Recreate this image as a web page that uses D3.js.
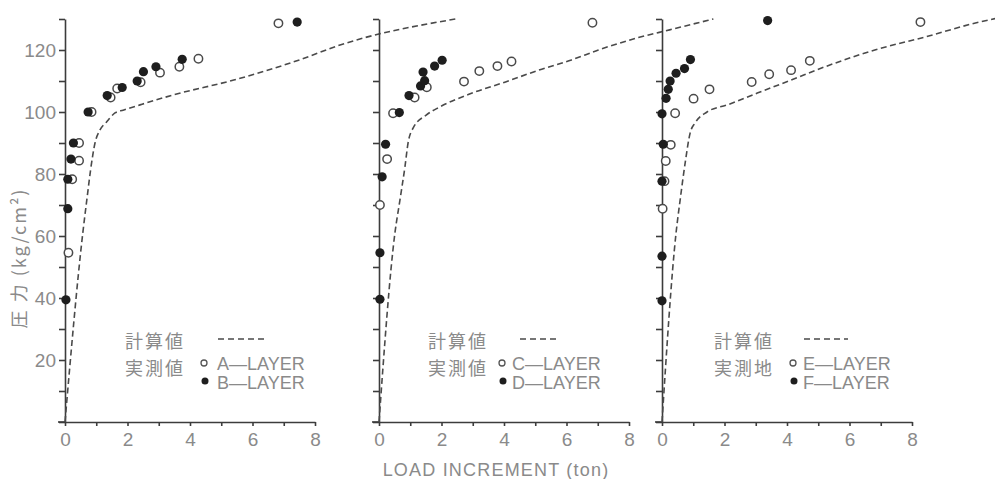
<!DOCTYPE html>
<html>
<head>
<meta charset="utf-8">
<script src="https://cdn.jsdelivr.net/npm/d3@7"></script>
<style>
  body { margin: 0; background: #fff; }
  svg { display: block; }
  .lbl { fill: #8a8a8a; font-family: "Liberation Sans", "DejaVu Sans", sans-serif; }
  .cjk { fill: #8a8a8a; font-family: "Noto Sans CJK JP", sans-serif; }
</style>
</head>
<body>
<svg id="chart" width="995" height="479"></svg>
<script>
// calculated curves [load increment (ton), pressure (kg/cm2)]
const calcAB = [[0,0],[0.57,61],[0.71,72.6],[0.82,81.4],[0.96,90],[1.12,94.2],[1.33,96.8],[1.6,99.7],[1.86,100.6],[2.4,102.3],[3.46,105.5],[5.4,110.3],[7.5,116.8],[8.8,121.6],[12.5,130]];
const calcCD = [[0,0],[0.51,61],[0.67,71.6],[0.83,82.3],[0.93,90],[1.09,94.8],[1.51,99],[1.94,101.6],[2.98,106.1],[4.05,109.7],[5.11,113.5],[6.16,116.8],[7.02,120],[8.3,124],[9.3,126.5],[10.7,130]];
const calcEF = [[0,0],[0.45,61],[0.58,71.6],[0.74,83.5],[0.9,93.2],[1.06,96.5],[1.44,100],[2.09,102.3],[3.05,106.1],[4.13,110.3],[5.19,114.5],[6.81,120],[8.42,124.2],[10.03,128.7],[10.74,130.3]];

// measured values
const layerA = [[0.11,54.6],[0.23,78.3],[0.45,84.3],[0.45,90],[0.85,100],[1.46,104.7],[1.67,107.6],[2.42,109.6],[3.04,112.7],[3.66,114.6],[4.27,117.2],[6.83,128.6]];
const layerB = [[0.03,39.4],[0.09,68.8],[0.09,78.3],[0.19,84.8],[0.27,90],[0.74,100],[1.35,105.3],[1.83,107.9],[2.31,110],[2.51,113],[2.91,114.6],[3.75,117],[7.43,129]];
const layerC = [[0.03,70],[0.26,84.8],[0.45,99.6],[1.14,104.7],[1.53,108],[2.72,109.8],[3.21,113.2],[3.79,114.8],[4.24,116.3],[6.83,128.8]];
const layerD = [[0.03,39.6],[0.03,54.6],[0.1,79.1],[0.21,89.6],[0.65,99.8],[0.96,105.3],[1.33,108.4],[1.46,110.1],[1.41,112.9],[1.78,114.8],[2.02,116.7]];
const layerE = [[0.02,68.8],[0.08,77.7],[0.12,84.2],[0.28,89.4],[0.42,99.6],[1.01,104.3],[1.52,107.3],[2.87,109.7],[3.43,112.2],[4.13,113.5],[4.73,116.5],[8.27,129]];
const layerF = [[0,39.1],[0,53.5],[0,77.7],[0.04,89.6],[0,99.4],[0.13,104.4],[0.2,107.3],[0.26,110],[0.45,112.5],[0.72,114],[0.91,116.9],[3.38,129.5]];

const xTicks = [0, 1, 2, 3, 4, 5, 6, 7, 8];
const yTicks = [0, 10, 20, 30, 40, 50, 60, 70, 80, 90, 100, 110, 120, 130];
const panelNames = [["計算値", "実測値", "A—LAYER", "B—LAYER"],
                    ["計算値", "実測値", "C—LAYER", "D—LAYER"],
                    ["計算値", "実測地", "E—LAYER", "F—LAYER"]];

const svg = d3.select("#chart");
const y = d3.scaleLinear().domain([0, 130]).range([422, 19]);

const panels = [
  { left: 65, calc: calcAB, open: layerA, full: layerB, names: panelNames[0], lx: 125, mx: 204, tx: 217, dx: [218, 265] },
  { left: 379, calc: calcCD, open: layerC, full: layerD, names: panelNames[1], lx: 428, mx: 502, tx: 512, dx: [520, 560] },
  { left: 662, calc: calcEF, open: layerE, full: layerF, names: panelNames[2], lx: 714, mx: 793, tx: 803, dx: [804, 848] }
];

panels.forEach((p, i) => {
  const x = d3.scaleLinear().domain([0, 8]).range([p.left, p.left + 250]);
  const g = svg.append("g");

  // axes
  const ya = g.append("g").attr("transform", `translate(${p.left},0)`)
    .call(d3.axisLeft(y).tickValues(yTicks).tickSizeInner(6).tickSizeOuter(0).tickPadding(3)
      .tickFormat(d => (i === 0 && d > 0 && d % 20 === 0) ? d : ""));
  const xa = g.append("g").attr("transform", `translate(0,${y(0)})`)
    .call(d3.axisBottom(x).tickValues(xTicks).tickSizeInner(4).tickSizeOuter(0).tickPadding(7)
      .tickFormat(d => d % 2 === 0 ? d : ""));
  [ya, xa].forEach(a => {
    a.selectAll("path, line").attr("stroke", "#3c3c3c").attr("stroke-width", 1.6);
    a.selectAll("text").attr("class", "lbl").attr("fill", "#8f8f8f").style("font-size", "19px");
  });
  g.append("line").attr("x1", p.left - 7).attr("x2", p.left).attr("y1", y(0)).attr("y2", y(0))
    .attr("stroke", "#3c3c3c").attr("stroke-width", 1.6);

  // calculated curve
  g.append("path").datum(p.calc)
    .attr("d", d3.line().x(d => x(d[0])).y(d => y(d[1])).curve(d3.curveMonotoneX))
    .attr("fill", "none").attr("stroke", "#4a4a4a").attr("stroke-width", 1.6)
    .attr("stroke-dasharray", "6,3.5");

  // measured points
  g.selectAll(".open").data(p.open).join("circle")
    .attr("cx", d => x(d[0])).attr("cy", d => y(d[1])).attr("r", 4.2)
    .attr("fill", "#fff").attr("stroke", "#4a4a4a").attr("stroke-width", 1.5);
  g.selectAll(".full").data(p.full).join("circle")
    .attr("cx", d => x(d[0])).attr("cy", d => y(d[1])).attr("r", 4.6)
    .attr("fill", "#1e1e1e");

  // legend
  g.append("text").attr("class", "cjk").attr("x", p.lx).attr("y", 348).style("font-size", "18px")
    .style("letter-spacing", "2px").text(p.names[0]);
  g.append("text").attr("class", "cjk").attr("x", p.lx).attr("y", 375).style("font-size", "18px")
    .style("letter-spacing", "2px").text(p.names[1]);
  g.append("line").attr("x1", p.dx[0]).attr("x2", p.dx[1]).attr("y1", 339).attr("y2", 339)
    .attr("stroke", "#4a4a4a").attr("stroke-width", 1.6).attr("stroke-dasharray", "6,4");
  g.append("circle").attr("cx", p.mx).attr("cy", 363).attr("r", 3)
    .attr("fill", "#fff").attr("stroke", "#555").attr("stroke-width", 1.3);
  g.append("circle").attr("cx", p.mx + 1).attr("cy", 381).attr("r", 3.5).attr("fill", "#1e1e1e");
  g.append("text").attr("class", "lbl").attr("x", p.tx).attr("y", 370).style("font-size", "18px").text(p.names[2]);
  g.append("text").attr("class", "lbl").attr("x", p.tx).attr("y", 389).style("font-size", "18px").text(p.names[3]);
});

// axis titles
svg.append("text").attr("class", "cjk")
  .attr("transform", "translate(26,258) rotate(-90)")
  .attr("text-anchor", "middle").style("font-size", "18px").style("letter-spacing", "2px")
  .text("圧 力 (kg/cm²)");
svg.append("text").attr("class", "lbl")
  .attr("x", 496).attr("y", 476).attr("text-anchor", "middle").style("font-size", "18px")
  .style("letter-spacing", "1.2px")
  .text("LOAD INCREMENT (ton)");
</script>
</body>
</html>
